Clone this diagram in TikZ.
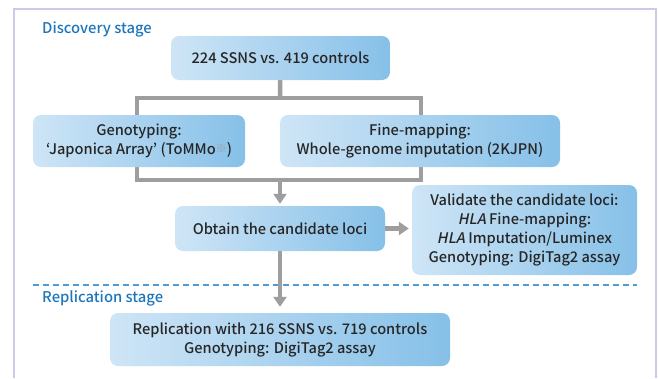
\documentclass[tikz,border=0pt]{standalone}
\usepackage{fontspec}
\setmainfont{Noto Sans CJK JP}[UprightFont=* Medium, AutoFakeSlant=0.2]
\usetikzlibrary{arrows.meta,backgrounds}
\definecolor{boxlight}{RGB}{206,229,246}
\definecolor{boxdark}{RGB}{134,192,232}
\definecolor{linkgray}{RGB}{158,158,158}
\definecolor{stageblue}{RGB}{28,118,188}
\definecolor{dashblue}{RGB}{80,155,210}
\definecolor{framelilac}{RGB}{202,202,234}
\definecolor{textdark}{RGB}{38,38,38}
\tikzstyle{flowbox}=[rounded corners=8pt, left color=boxlight, right color=boxdark,
  align=center, text=textdark, inner sep=0pt, font=\fontsize{14.6}{19}\selectfont]
\tikzstyle{stagelabel}=[anchor=west, inner sep=0pt, text=stageblue, font=\fontsize{14.8}{19}\selectfont]
\tikzstyle{link}=[draw=linkgray, line width=4.5pt]
\tikzstyle{flowarrow}=[link, -{Triangle[width=13pt,length=10pt]}]
\newcommand{\flowbox}{\node[flowbox]}
\newcommand{\hla}{\textit{HLA}}
\newcommand{\refmark}{{\fontsize{11}{11}\selectfont\color{linkgray}\raisebox{2pt}{\char"203B}}}

\begin{document}
\begin{tikzpicture}[x=1pt, y=-1pt]
\useasboundingbox (0,0) rectangle (659,378);
\draw[framelilac, line width=1.5pt] (14,378) -- (14,9) -- (656,9) -- (656,378);
\node[stagelabel] (disc) at (42,29) {Discovery stage};
\flowbox[minimum width=219pt, minimum height=44pt] (cohort) at (280.5,58) {224 SSNS vs. 419 controls};
\flowbox[minimum width=212pt, minimum height=52pt] (geno) at (139,141) {Genotyping:\\ ‘Japonica Array’ (ToMMo\refmark)};
\flowbox[minimum width=280pt, minimum height=52pt] (fine) at (420,141) {Fine-mapping:\\ Whole-genome imputation (2KJPN)};
\flowbox[minimum width=210pt, minimum height=45pt] (obtain) at (280,228.5) {Obtain the candidate loci};
\flowbox[minimum width=225pt, minimum height=90pt] (valid) at (524.5,230) {Validate the candidate loci:\\ \hla{} Fine-mapping:\\ \hla{} Imputation/Luminex\\ Genotyping: DigiTag2 assay};
\node[stagelabel] (repl) at (42,298) {Replication stage};
\flowbox[minimum width=340pt, minimum height=53pt] (replbox) at (280,339.5) {Replication with 216 SSNS vs. 719 controls\\ Genotyping: DigiTag2 assay};
\coordinate (split) at (280,98);
\coordinate (merge) at (280,180);
\coordinate (brNW) at (137,98);
\coordinate (brNE) at (421,98);
\coordinate (brSW) at (137,180);
\coordinate (brSE) at (421,180);
\coordinate (dashL) at (33,285);
\coordinate (dashR) at (637,285);
\begin{scope}[on background layer]
\draw[link] (cohort) -- (split);
\draw[link] (brNW) -- (brNE) -- (brSE) -- (brSW) -- cycle;
\end{scope}
\draw[dashblue, line width=1.5pt, dash pattern=on 6pt off 4pt] (dashL) -- (dashR);
\draw[flowarrow, shorten >=2pt] (merge) -- (obtain.north);
\draw[flowarrow, shorten >=3pt] (obtain.east) -- (obtain.east -| valid.west);
\draw[flowarrow, shorten >=6pt] (obtain.south) -- (replbox.north);
\end{tikzpicture}
\end{document}
